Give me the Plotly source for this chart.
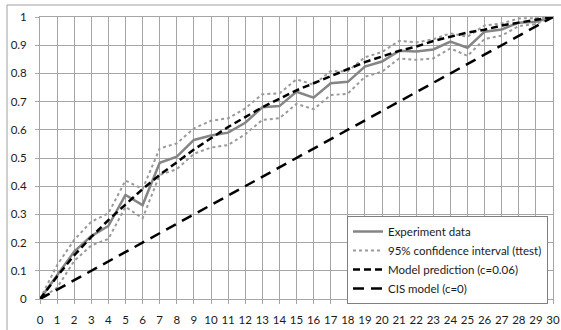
import plotly.graph_objects as go

x_vals = list(range(0, 31))
experiment = [0, 0.085, 0.168, 0.223, 0.259, 0.369, 0.333, 0.483, 0.505, 0.564, 0.58,
              0.59, 0.625, 0.68, 0.684, 0.735, 0.714, 0.765, 0.77, 0.824, 0.842,
              0.88, 0.878, 0.885, 0.913, 0.891, 0.948, 0.956, 0.98, 0.983, 1.0]
ci_upper = [0, 0.12, 0.21, 0.274, 0.304, 0.42, 0.39, 0.534, 0.552, 0.605, 0.632,
            0.641, 0.676, 0.726, 0.729, 0.779, 0.76, 0.808, 0.808, 0.857, 0.876,
            0.915, 0.91, 0.921, 0.942, 0.93, 0.97, 0.977, 0.995, 0.996, 1.0]
ci_lower = [0, 0.04, 0.135, 0.19, 0.213, 0.327, 0.286, 0.44, 0.46, 0.515, 0.537,
            0.546, 0.584, 0.635, 0.641, 0.692, 0.673, 0.723, 0.728, 0.788, 0.806,
            0.853, 0.848, 0.853, 0.889, 0.862, 0.922, 0.934, 0.968, 0.975, 1.0]
model_pred = [0, 0.08, 0.155, 0.22, 0.28, 0.335, 0.39, 0.44, 0.485, 0.53, 0.57,
              0.61, 0.645, 0.68, 0.71, 0.74, 0.765, 0.79, 0.815, 0.84, 0.86,
              0.88, 0.895, 0.915, 0.93, 0.945, 0.955, 0.97, 0.98, 0.99, 1.0]
cis_x = [0, 30]
cis_y = [0, 1]

names = ["Experiment data", "95% confidence interval (ttest)",
         "Model prediction (c=0.06)", "CIS model (c=0)"]

FONT = "Lato, 'Open Sans', sans-serif"

fig = go.Figure()
fig.add_trace(go.Scatter(x=x_vals, y=experiment, mode="lines", name=names[0],
                         line=dict(color="#858585", width=2.5)))
fig.add_trace(go.Scatter(x=x_vals, y=ci_upper, mode="lines", name=names[1],
                         legendgroup="ci",
                         line=dict(color="#9a9a9a", width=2, dash="dot")))
fig.add_trace(go.Scatter(x=x_vals, y=ci_lower, mode="lines", name=names[1],
                         legendgroup="ci", showlegend=False,
                         line=dict(color="#9a9a9a", width=2, dash="dot")))
fig.add_trace(go.Scatter(x=x_vals, y=model_pred, mode="lines", name=names[2],
                         line=dict(color="black", width=2.5, dash="7px,4px")))
fig.add_trace(go.Scatter(x=cis_x, y=cis_y, mode="lines", name=names[3],
                         line=dict(color="black", width=2.5, dash="11px,7px")))

W, H = 561, 330
ml, mr, mt, mb = 40, 8, 17, 31
pw = W - ml - mr
ph = H - mt - mb

def px_x(p):
    return (p - ml) / pw

def px_y(p):
    return (H - mb - p) / ph

fig.add_shape(type="rect", xref="paper", yref="paper",
              x0=px_x(7), x1=px_x(570), y0=px_y(340), y1=px_y(5),
              line=dict(color="#a0a0a0", width=1), fillcolor="rgba(0,0,0,0)",
              layer="below")

fig.update_layout(
    width=W, height=H,
    margin=dict(l=ml, r=mr, t=mt, b=mb),
    paper_bgcolor="white", plot_bgcolor="white",
    font=dict(family=FONT, size=11.5, color="#1a1a1a"),
    showlegend=True,
    legend=dict(x=px_x(548), xanchor="right", y=px_y(216), yanchor="top",
                bgcolor="white", bordercolor="#808080", borderwidth=1,
                font=dict(family=FONT, size=11.5, color="#1a1a1a"),
                itemwidth=30, tracegroupgap=0),
)
fig.update_xaxes(range=[0, 30], dtick=1, tick0=0, showgrid=True,
                 gridcolor="#a6a6a6", gridwidth=1, zeroline=False,
                 showline=True, linecolor="#a6a6a6", mirror=True,
                 ticks="outside", ticklen=4, tickcolor="#a6a6a6",
                 ticklabelstandoff=6, automargin=False, fixedrange=True)
fig.update_yaxes(range=[0, 1], dtick=0.1, tick0=0, showgrid=True,
                 gridcolor="#a6a6a6", gridwidth=1, zeroline=False,
                 showline=True, linecolor="#a6a6a6", mirror=True,
                 ticks="outside", ticklen=4, tickcolor="#a6a6a6",
                 ticklabelstandoff=6, automargin=False, fixedrange=True)

fig.write_html("out.html")
